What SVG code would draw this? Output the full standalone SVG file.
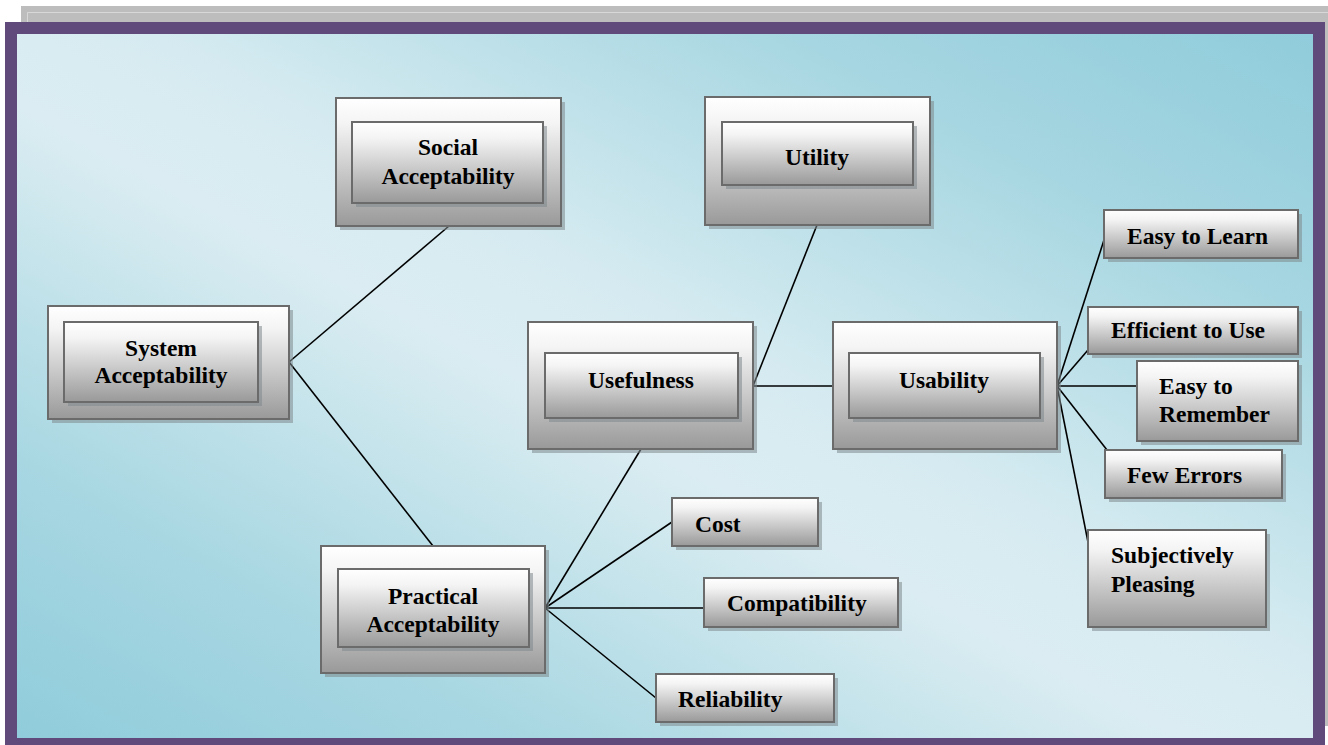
<svg xmlns="http://www.w3.org/2000/svg" width="1328" height="745" viewBox="0 0 1328 745">
  <defs>
    <linearGradient id="panelFill" x1="1" y1="0" x2="0" y2="1">
      <stop offset="0" stop-color="#90ccdb"/>
      <stop offset="0.2" stop-color="#a6d6e1"/>
      <stop offset="0.45" stop-color="#d6ebf1"/>
      <stop offset="0.55" stop-color="#dbedf2"/>
      <stop offset="0.8" stop-color="#a8d7e2"/>
      <stop offset="1" stop-color="#90ccdb"/>
    </linearGradient>
    <linearGradient id="boxFill" x1="0" y1="0" x2="0" y2="1">
      <stop offset="0" stop-color="#ffffff"/>
      <stop offset="0.2" stop-color="#f4f4f4"/>
      <stop offset="1" stop-color="#999999"/>
    </linearGradient>
    <style>
      .shadow { fill: #7f8a8e; opacity: 0.55; }
      .box { fill: url(#boxFill); stroke: #6b6b6b; stroke-width: 2; }
      .label { font-family: "Liberation Serif", "Times New Roman", serif; font-weight: bold; font-size: 23.5px; fill: #000; }
      .mid { text-anchor: middle; }
      .link { stroke: #000; stroke-width: 1.6; fill: none; }
    </style>
  </defs>

  <!-- page background and frame -->
  <rect x="0" y="0" width="1328" height="745" fill="#ffffff"/>
  <rect x="21" y="6" width="1320" height="720" fill="#bdbdbd"/>
  <path d="M27.5 28 V12.5 H1328" fill="none" stroke="#d8d8d8" stroke-width="1"/>
  <rect x="5" y="22" width="1320" height="730" fill="#5f4a7b"/>
  <rect x="17" y="34" width="1296" height="704" fill="url(#panelFill)"/>

  <!-- connectors -->
  <g id="connectors">
    <line class="link" x1="289" y1="362" x2="449" y2="226"/>
    <line class="link" x1="289" y1="362" x2="433" y2="546"/>
    <line class="link" x1="545" y1="608" x2="641" y2="449"/>
    <line class="link" x1="545" y1="608" x2="672" y2="522"/>
    <line class="link" x1="545" y1="608" x2="704" y2="608"/>
    <line class="link" x1="545" y1="608" x2="656" y2="698"/>
    <line class="link" x1="753" y1="386" x2="817" y2="225"/>
    <line class="link" x1="753" y1="386" x2="833" y2="386"/>
    <line class="link" x1="1057" y1="386" x2="1104" y2="240"/>
    <line class="link" x1="1057" y1="386" x2="1088" y2="350"/>
    <line class="link" x1="1057" y1="386" x2="1137" y2="386"/>
    <line class="link" x1="1057" y1="386" x2="1107" y2="450"/>
    <line class="link" x1="1057" y1="386" x2="1088" y2="542"/>
  </g>

  <!-- two-level nodes -->
  <g id="social-acceptability">
    <rect class="shadow" x="340" y="102" width="225" height="128"/>
    <rect class="box" x="336" y="98" width="225" height="128"/>
    <rect class="shadow" x="356" y="126" width="191" height="81"/>
    <rect class="box" x="352" y="122" width="191" height="81"/>
    <text class="label mid" x="448" y="155">Social</text>
    <text class="label mid" x="448" y="184">Acceptability</text>
  </g>

  <g id="system-acceptability">
    <rect class="shadow" x="52" y="310" width="241" height="113"/>
    <rect class="box" x="48" y="306" width="241" height="113"/>
    <rect class="shadow" x="68" y="326" width="194" height="80"/>
    <rect class="box" x="64" y="322" width="194" height="80"/>
    <text class="label mid" x="161" y="356">System</text>
    <text class="label mid" x="161" y="383">Acceptability</text>
  </g>

  <g id="utility">
    <rect class="shadow" x="709" y="101" width="225" height="128"/>
    <rect class="box" x="705" y="97" width="225" height="128"/>
    <rect class="shadow" x="726" y="126" width="191" height="63"/>
    <rect class="box" x="722" y="122" width="191" height="63"/>
    <text class="label mid" x="817" y="165">Utility</text>
  </g>

  <g id="usefulness">
    <rect class="shadow" x="532" y="326" width="225" height="127"/>
    <rect class="box" x="528" y="322" width="225" height="127"/>
    <rect class="shadow" x="549" y="357" width="193" height="65"/>
    <rect class="box" x="545" y="353" width="193" height="65"/>
    <text class="label mid" x="641" y="388">Usefulness</text>
  </g>

  <g id="usability">
    <rect class="shadow" x="837" y="326" width="224" height="127"/>
    <rect class="box" x="833" y="322" width="224" height="127"/>
    <rect class="shadow" x="853" y="357" width="191" height="65"/>
    <rect class="box" x="849" y="353" width="191" height="65"/>
    <text class="label mid" x="944" y="388">Usability</text>
  </g>

  <g id="practical-acceptability">
    <rect class="shadow" x="325" y="550" width="224" height="127"/>
    <rect class="box" x="321" y="546" width="224" height="127"/>
    <rect class="shadow" x="342" y="573" width="191" height="78"/>
    <rect class="box" x="338" y="569" width="191" height="78"/>
    <text class="label mid" x="433" y="604">Practical</text>
    <text class="label mid" x="433" y="632">Acceptability</text>
  </g>

  <!-- leaf nodes -->
  <g id="cost">
    <rect class="shadow" x="676" y="502" width="146" height="48"/>
    <rect class="box" x="672" y="498" width="146" height="48"/>
    <text class="label" x="695" y="532">Cost</text>
  </g>

  <g id="compatibility">
    <rect class="shadow" x="708" y="582" width="194" height="49"/>
    <rect class="box" x="704" y="578" width="194" height="49"/>
    <text class="label" x="727" y="611">Compatibility</text>
  </g>

  <g id="reliability">
    <rect class="shadow" x="660" y="678" width="178" height="48"/>
    <rect class="box" x="656" y="674" width="178" height="48"/>
    <text class="label" x="678" y="707">Reliability</text>
  </g>

  <g id="easy-to-learn">
    <rect class="shadow" x="1108" y="214" width="194" height="48"/>
    <rect class="box" x="1104" y="210" width="194" height="48"/>
    <text class="label" x="1127" y="244">Easy to Learn</text>
  </g>

  <g id="efficient-to-use">
    <rect class="shadow" x="1092" y="311" width="210" height="47"/>
    <rect class="box" x="1088" y="307" width="210" height="47"/>
    <text class="label" x="1111" y="338">Efficient to Use</text>
  </g>

  <g id="easy-to-remember">
    <rect class="shadow" x="1141" y="365" width="161" height="80"/>
    <rect class="box" x="1137" y="361" width="161" height="80"/>
    <text class="label" x="1159" y="394">Easy to</text>
    <text class="label" x="1159" y="422">Remember</text>
  </g>

  <g id="few-errors">
    <rect class="shadow" x="1109" y="454" width="177" height="48"/>
    <rect class="box" x="1105" y="450" width="177" height="48"/>
    <text class="label" x="1127" y="483">Few Errors</text>
  </g>

  <g id="subjectively-pleasing">
    <rect class="shadow" x="1092" y="534" width="178" height="97"/>
    <rect class="box" x="1088" y="530" width="178" height="97"/>
    <text class="label" x="1111" y="563">Subjectively</text>
    <text class="label" x="1111" y="592">Pleasing</text>
  </g>
</svg>
